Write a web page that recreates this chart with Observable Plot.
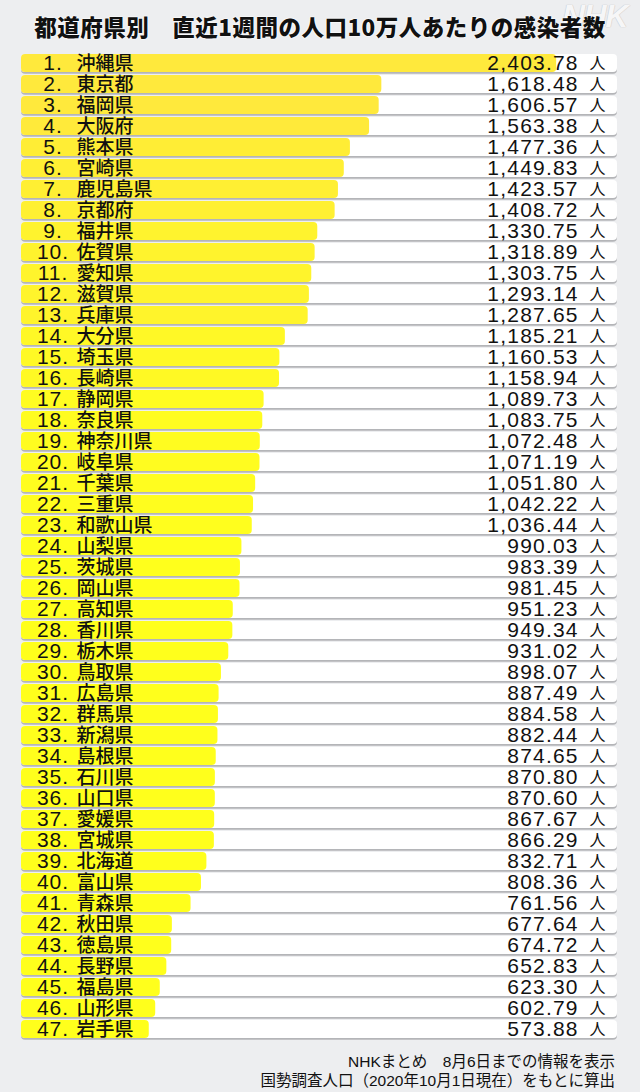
<!DOCTYPE html>
<html>
<head>
<meta charset="utf-8">
<script src="https://cdn.jsdelivr.net/npm/d3@7"></script>
<script src="https://cdn.jsdelivr.net/npm/@observablehq/plot@0.6"></script>
<style>
  html, body { margin: 0; padding: 0; }
  body { width: 640px; height: 1092px; background: #edeef0; position: relative; overflow: hidden;
         font-family: 'Liberation Sans', 'Noto Sans CJK JP', sans-serif; color: #111; }
  #title { height: 46px; box-sizing: border-box; padding-top: 7px; line-height: 39px; text-align: center;
           font-family: 'Noto Sans CJK JP', sans-serif; font-weight: 900; font-size: 22.5px; letter-spacing: 0.5px;
           text-shadow: 0 0 2px #fff, 0 0 2px #fff, 0 0 1px #fff; position: relative; }
  #logo { position: absolute; left: 562px; top: -2px; font-family: 'Liberation Sans', sans-serif; font-weight: 700;
          font-style: italic; font-size: 32px; color: #f6f6f7; letter-spacing: -1.5px;
          text-shadow: 0 0 1px #c4c4c8, 0 0 1px #c4c4c8; }
  #chart svg { display: block; }
  #footer { box-sizing: border-box; padding-top: 5px; padding-right: 25px; text-align: right;
            font-size: 15.5px; line-height: 18.5px; font-family: 'Liberation Sans', 'Noto Sans CJK JP', sans-serif; }
</style>
</head>
<body>
<div id="logo">NHK</div>
<div id="title">都道府県別　直近1週間の人口10万人あたりの感染者数</div>
<div id="chart"></div>
<div id="footer">NHKまとめ　8月6日までの情報を表示<br>国勢調査人口（2020年10月1日現在）をもとに算出</div>
<script>
const prefectures = ["沖縄県","東京都","福岡県","大阪府","熊本県","宮崎県","鹿児島県","京都府","福井県","佐賀県",
  "愛知県","滋賀県","兵庫県","大分県","埼玉県","長崎県","静岡県","奈良県","神奈川県","岐阜県",
  "千葉県","三重県","和歌山県","山梨県","茨城県","岡山県","高知県","香川県","栃木県","鳥取県",
  "広島県","群馬県","新潟県","島根県","石川県","山口県","愛媛県","宮城県","北海道","富山県",
  "青森県","秋田県","徳島県","長野県","福島県","山形県","岩手県"];
const casesPer100k = [2403.78,1618.48,1606.57,1563.38,1477.36,1449.83,1423.57,1408.72,1330.75,1318.89,
  1303.75,1293.14,1287.65,1185.21,1160.53,1158.94,1089.73,1083.75,1072.48,1071.19,
  1051.80,1042.22,1036.44,990.03,983.39,981.45,951.23,949.34,931.02,898.07,
  887.49,884.58,882.44,874.65,870.80,870.60,867.67,866.29,832.71,808.36,
  761.56,677.64,674.72,652.83,623.30,602.79,573.88];
const unitLabel = "人";
const xMax = 2677;

const rows = prefectures.map((name, i) => ({rank: i + 1, name, value: casesPer100k[i]}));
const fmt = d3.format(",.2f");
const yellow = d3.scaleLinear().domain([1000, 1600]).range(["#ffff1c", "#ffe93c"]).clamp(true);

const chart = Plot.plot({
  width: 640,
  height: 1002,
  marginLeft: 21,
  marginRight: 23,
  marginTop: 1.7,
  marginBottom: 3,
  style: {background: "transparent", fontFamily: "'Liberation Sans','Noto Sans CJK JP',sans-serif", color: "#111"},
  x: {domain: [0, xMax], axis: null},
  y: {domain: prefectures, axis: null, padding: 0},
  marks: [
    Plot.barX(rows, {x: () => xMax, y: "name", fill: "#b4b5b8", rx: 4, insetTop: 1, insetBottom: 2, dy: 1.8}),
    Plot.barX(rows, {x: () => xMax, y: "name", fill: "#ffffff", rx: 4, insetTop: 1, insetBottom: 2}),
    Plot.barX(rows, {x: "value", y: "name", fill: d => yellow(d.value), rx: 4, insetTop: 1, insetBottom: 2}),
    Plot.text(rows, {y: "name", text: d => d.rank + ".", frameAnchor: "left", dx: 31.5, dy: -0.5, textAnchor: "middle",
      fontSize: 21, fill: "#111"}),
    Plot.text(rows, {y: "name", text: "name", frameAnchor: "left", dx: 55, dy: -0.5, textAnchor: "start",
      fontSize: 19, fontWeight: 500, fontFamily: "'Noto Sans CJK JP',sans-serif", fill: "#111"}),
    Plot.text(rows, {y: "name", text: d => fmt(d.value), frameAnchor: "right", dx: -38.8, dy: -0.5, textAnchor: "end",
      fontSize: 21, fill: "#111"}),
    Plot.text(rows, {y: "name", text: () => unitLabel, frameAnchor: "right", dx: -12, dy: -0.5, textAnchor: "end",
      fontSize: 16, fontFamily: "'Noto Sans CJK JP',sans-serif", fill: "#111"})
  ]
});
// widen the digit spacing of the rank and value labels (text groups 0 and 2)
const textGroups = chart.querySelectorAll('g[aria-label="text"]');
if (textGroups[0]) textGroups[0].style.letterSpacing = "1px";
if (textGroups[2]) textGroups[2].style.letterSpacing = "1.2px";
document.getElementById("chart").appendChild(chart);
</script>
</body>
</html>
